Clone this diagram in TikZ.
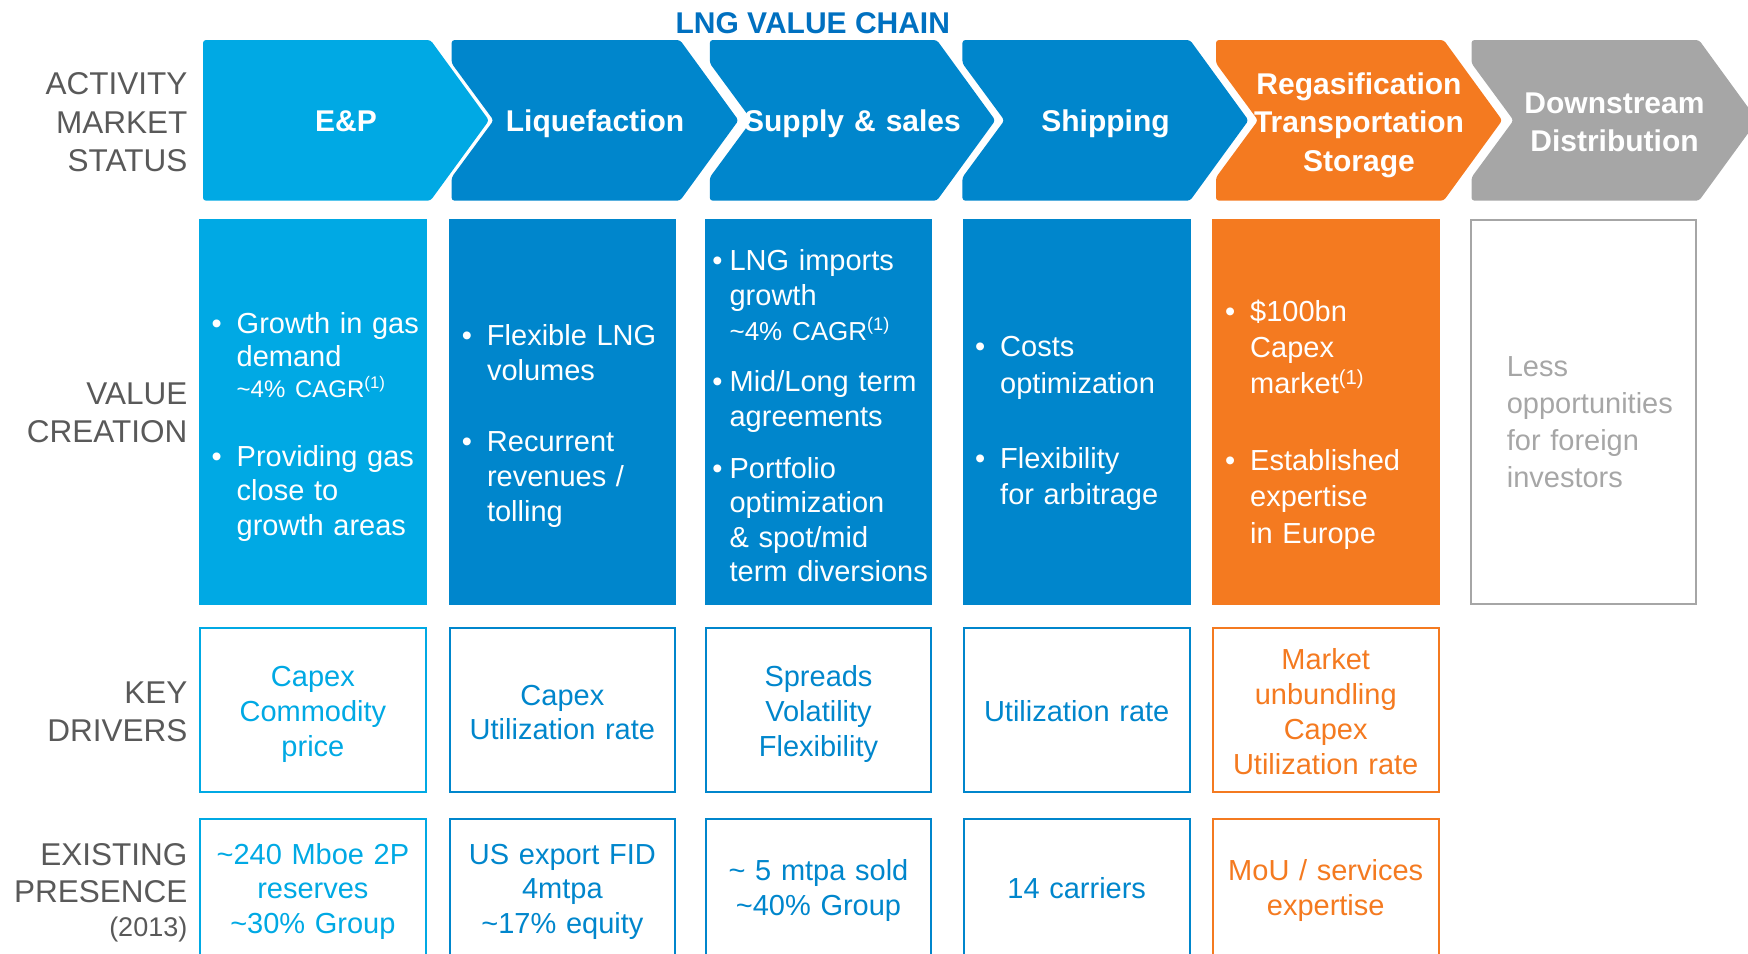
\documentclass[tikz,border=0pt]{standalone}
\usepackage{fontspec}
\setmainfont{Liberation Sans}
\definecolor{epblue}{RGB}{0,169,228}
\definecolor{lngblue}{RGB}{0,134,204}
\definecolor{regasorange}{RGB}{244,122,32}
\definecolor{downgray}{RGB}{166,166,166}
\definecolor{labelgray}{RGB}{89,89,89}
\definecolor{titleblue}{RGB}{0,112,192}
\newcommand{\lngbul}[1][15pt]{\llap{\textbullet\hspace{#1}}}
\begin{document}
\begin{tikzpicture}[x=1pt,y=-1pt,
    chev/.style={rounded corners=3pt},
    chevlabel/.style={anchor=base,inner sep=0pt,text width=250pt,align=center,text=white,font=\bfseries\fontsize{30}{38.4}\selectfont},
    rowlabel/.style={anchor=base east,inner sep=0pt,text width=190pt,align=right,text=labelgray,font=\fontsize{31.5}{#1}\selectfont},
    rowlabel/.default=38.7,
    vcbox/.style={inner sep=0pt,outer sep=0pt,minimum width=227.7pt,minimum height=386pt},
    kdbox/.style={draw=#1,line width=2pt,inner sep=0pt,minimum width=225.7pt,minimum height=164.6pt},
    presbox/.style={draw=#1,line width=2pt,inner sep=0pt,minimum width=225.7pt,minimum height=141pt},
    bullitem/.style={anchor=base west,inner sep=0pt,text width=205pt,align=left,text=white,font=\fontsize{29}{#1}\selectfont},
    bullitem/.default=35,
    celltext/.style={anchor=base,inner sep=0pt,text width=222pt,align=center,font=\fontsize{29}{#1}\selectfont},
    celltext/.default=35]
    \useasboundingbox (0,0) rectangle (1748,953);
    \node[anchor=base,inner sep=0pt,text=titleblue,font=\bfseries\fontsize{30}{30}\selectfont] (title) at (812.8,33.3) {LNG VALUE CHAIN};

    \fill[chev,epblue] (203,40) -- (430.5,40) -- (489,120.35) -- (430.5,200.7) -- (203,200.7) -- cycle;
    \fill[chev,lngblue] (451.6,40) -- ++(228.4,0) -- ++(58.5,80.35) -- ++(-58.5,80.35) -- ++(-228.4,0) -- ++(0,-23.3) -- ++(42,-57.05) -- ++(-42,-57.05) -- cycle;
    \fill[chev,lngblue] (709.8,40) -- ++(227,0) -- ++(58.5,80.35) -- ++(-58.5,80.35) -- ++(-227,0) -- ++(0,-23.3) -- ++(42,-57.05) -- ++(-42,-57.05) -- cycle;
    \fill[chev,lngblue] (962.4,40) -- ++(227.6,0) -- ++(58.5,80.35) -- ++(-58.5,80.35) -- ++(-227.6,0) -- ++(0,-23.3) -- ++(42,-57.05) -- ++(-42,-57.05) -- cycle;
    \fill[chev,regasorange] (1216,40) -- ++(227.7,0) -- ++(58.5,80.35) -- ++(-58.5,80.35) -- ++(-227.7,0) -- ++(0,-23.3) -- ++(42,-57.05) -- ++(-42,-57.05) -- cycle;
    \fill[chev,downgray] (1471.5,40) -- ++(227.5,0) -- ++(58.5,80.35) -- ++(-58.5,80.35) -- ++(-227.5,0) -- ++(0,-23.3) -- ++(42,-57.05) -- ++(-42,-57.05) -- cycle;

    \node[chevlabel] (ep) at (346,131.7) {E\&P};
    \node[chevlabel] (liq) at (595,131.7) {Liquefaction};
    \node[chevlabel] (supply) at (852.5,131.7) {Supply \& sales};
    \node[chevlabel] (ship) at (1105.5,131.7) {Shipping};
    \node[chevlabel] (regas) at (1359,94.3) {Regasification\\Transportation\\Storage};
    \node[chevlabel] (down) at (1614.5,113.3) {Downstream\\Distribution};

    \node[rowlabel] (activity) at (187.5,94.3) {ACTIVITY\\MARKET\\STATUS};
    \node[rowlabel] (value) at (187.5,404) {VALUE\\CREATION};
    \node[rowlabel=37.7] (drivers) at (187.5,703.3) {KEY\\DRIVERS};
    \node[rowlabel=37.7] (presence) at (187.5,865) {EXISTING\\PRESENCE\\[-3.7pt]{\fontsize{27}{27}\selectfont(2013)}};

    \node[vcbox,fill=epblue] (vc-ep) at (312.9,412) {};
    \node[vcbox,fill=lngblue] (vc-liq) at (562.4,412) {};
    \node[vcbox,fill=lngblue] (vc-supply) at (818.5,412) {};
    \node[vcbox,fill=lngblue] (vc-ship) at (1076.7,412) {};
    \node[vcbox,fill=regasorange] (vc-regas) at (1325.7,412) {};
    \node[vcbox,draw=downgray,line width=2.2pt,minimum width=225.5pt,minimum height=383.8pt] (vc-down) at (1583.5,411.7) {};

    \node[bullitem=33.4] (ep-a) at (236.5,333.3) {\lngbul Growth in gas\\demand\\[-2.8pt]{\fontsize{24}{24}\selectfont\textasciitilde4\% CAGR\textsuperscript{(1)}}};
    \node[bullitem=34.2] (ep-b) at (236.5,466.7) {\lngbul Providing gas\\close to\\growth areas};
    \node[bullitem] (liq-a) at (486.8,345) {\lngbul Flexible LNG\\volumes};
    \node[bullitem] (liq-b) at (486.8,451.7) {\lngbul Recurrent\\revenues /\\tolling};
    \node[bullitem] (supply-a) at (729.4,270) {\lngbul[7pt]LNG imports\\growth\\{\fontsize{26}{26}\selectfont\textasciitilde4\% CAGR\textsuperscript{(1)}}};
    \node[bullitem] (supply-b) at (729.4,391.7) {\lngbul[7pt]Mid/Long term\\agreements};
    \node[bullitem=34.5] (supply-c) at (729.4,478.3) {\lngbul[7pt]Portfolio\\optimization\\\& spot/mid\\term diversions};
    \node[bullitem=36.5] (ship-a) at (1000,356.7) {\lngbul Costs\\optimization};
    \node[bullitem=36.5] (ship-b) at (1000,468.3) {\lngbul Flexibility\\for arbitrage};
    \node[bullitem=35.8] (regas-a) at (1250,321.7) {\lngbul \$100bn\\Capex\\market\textsuperscript{(1)}};
    \node[bullitem=36.7] (regas-b) at (1250,470) {\lngbul Established\\expertise\\in Europe};
    \node[bullitem=36.9,text=downgray] (down-a) at (1506.6,376.7) {Less\\opportunities\\for foreign\\investors};

    \node[kdbox=epblue] (kd-ep) at (312.9,710) {};
    \node[kdbox=lngblue] (kd-liq) at (562.4,710) {};
    \node[kdbox=lngblue] (kd-supply) at (818.5,710) {};
    \node[kdbox=lngblue] (kd-ship) at (1076.7,710) {};
    \node[kdbox=regasorange] (kd-regas) at (1325.7,710) {};

    \node[celltext,text=epblue] (kd-ep-t) at (312.9,686.7) {Capex\\Commodity\\price};
    \node[celltext=34.3,text=lngblue] (kd-liq-t) at (562.4,705) {Capex\\Utilization rate};
    \node[celltext,text=lngblue] (kd-supply-t) at (818.5,686.7) {Spreads\\Volatility\\Flexibility};
    \node[celltext,text=lngblue] (kd-ship-t) at (1076.7,721.7) {Utilization rate};
    \node[celltext,text=regasorange] (kd-regas-t) at (1325.7,669) {Market\\unbundling\\Capex\\Utilization rate};

    \node[presbox=epblue] (ex-ep) at (312.9,889.8) {};
    \node[presbox=lngblue] (ex-liq) at (562.4,889.8) {};
    \node[presbox=lngblue] (ex-supply) at (818.5,889.8) {};
    \node[presbox=lngblue] (ex-ship) at (1076.7,889.8) {};
    \node[presbox=regasorange] (ex-regas) at (1325.7,889.8) {};

    \node[celltext=34.7,text=epblue] (ex-ep-t) at (312.9,864) {\textasciitilde240 Mboe 2P\\reserves\\\textasciitilde30\% Group};
    \node[celltext=34.7,text=lngblue] (ex-liq-t) at (562.4,864) {US export FID\\4mtpa\\\textasciitilde17\% equity};
    \node[celltext,text=lngblue] (ex-supply-t) at (818.5,880) {\textasciitilde{} 5 mtpa sold\\\textasciitilde40\% Group};
    \node[celltext,text=lngblue] (ex-ship-t) at (1076.7,898.3) {14 carriers};
    \node[celltext,text=regasorange] (ex-regas-t) at (1325.7,880) {MoU / services\\expertise};
\end{tikzpicture}
\end{document}
